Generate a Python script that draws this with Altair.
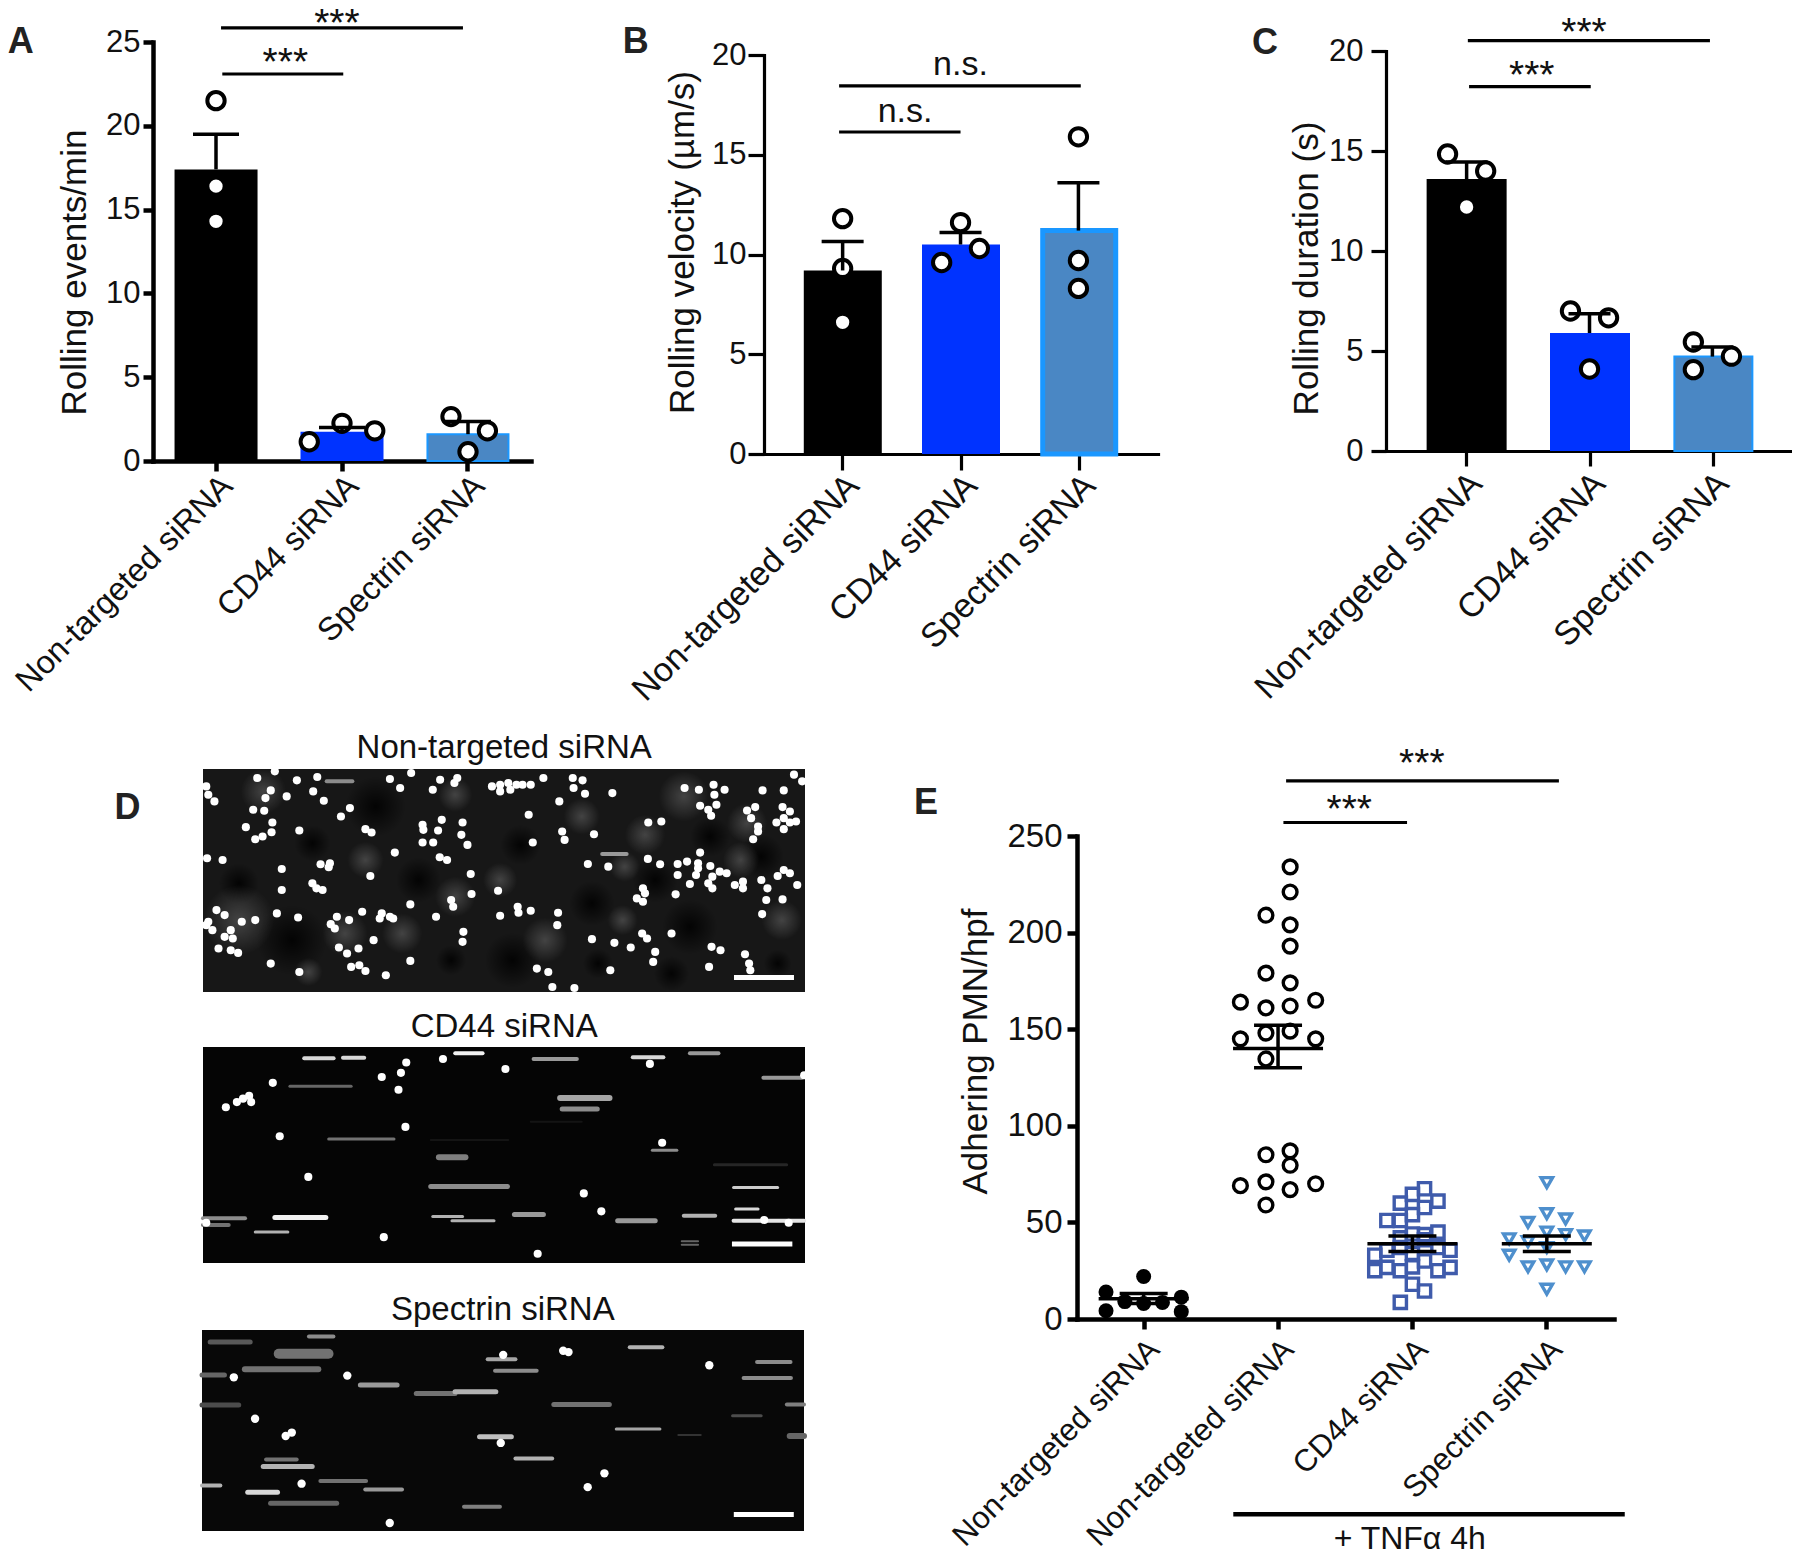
import altair as alt
import pandas as pd

FONT = "Liberation Sans"
CANVAS_W, CANVAS_H = 1784, 1548
GROUPS3 = ["Non-targeted siRNA", "CD44 siRNA", "Spectrin siRNA"]
GROUPS4 = ["Non-targeted siRNA", "Non-targeted siRNA ", "CD44 siRNA", "Spectrin siRNA"]
BAR_COLORS = ["#000000", "#0033ff", "#4a87c4"]

# ---- panel A
a_bar = [17.4, 1.75, 1.6]
a_err = [19.5, 2.0, 2.35]
a_pts_x = [0, 0, 0, 0.74, 1, 1.26, 1.865, 2.154, 2.0]
a_pts_y = [21.5, 16.4, 14.3, 1.15, 2.25, 1.8, 2.65, 1.8, 0.55]
a_sig = [(0.04, 1.96, 25.84), (0.05, 1.01, 23.09)]
a_txt = [(0.96, 26.5, "***"), (0.55, 24.16, "***")]
a_letter = (-1.55, 25.1, "A")
# ---- panel B
b_bar = [9.2, 10.5, 11.2]
b_err = [10.65, 11.1, 13.6]
b_pts_x = [0, 0, 0, 1, 0.84, 1.16, 2, 2, 2]
b_pts_y = [11.8, 9.3, 6.6, 11.6, 9.6, 10.3, 15.9, 9.7, 8.3]
b_sig = [(-0.03, 2.02, 18.45), (-0.03, 1.0, 16.14)]
b_txt = [(1.0, 19.5, "n.s."), (0.53, 17.14, "n.s.")]
b_letter = (-1.755, 20.75, "B")
# ---- panel C
c_bar = [13.6, 5.9, 4.72]
c_err = [14.45, 6.86, 5.2]
c_pts_x = [-0.155, 0.155, 0, 0.845, 1.155, 1, 1.845, 2.155, 1.845]
c_pts_y = [14.85, 14.0, 12.2, 7.0, 6.66, 4.1, 5.45, 4.74, 4.07]
c_sig = [(0.01, 1.98, 20.52), (0.02, 1.01, 18.22)]
c_txt = [(0.955, 21.25, "***"), (0.53, 19.1, "***")]
c_letter = (-1.64, 20.5, "C")
# ---- panel E
e1_x = [0, -0.28, 0.28, -0.14, 0, 0.14, -0.28, 0.28]
e1_y = [22, 14, 11.3, 9, 8, 8.6, 4.3, 3.8]
e2_x = [1.09, 1.09, 0.91, 1.09, 1.09, 0.91, 1.09, 0.72, 1.28, 0.91, 1.09, 0.72, 0.91, 1.09, 1.28, 0.91,
        1.09, 0.91, 1.09, 0.91, 0.72, 1.28, 1.09, 0.91]
e2_y = [234, 221, 209, 204, 193, 179, 174, 164, 165, 161, 162, 145, 148, 149, 145, 134.6,
        87, 85, 79.6, 71, 69, 70, 67, 59]
e3_x = [1.91, 2.09, 2.0, 1.72, 1.81, 1.91, 2.0, 2.19, 2.28, 2.09, 1.72, 2.28, 2.0, 1.81, 1.91, 2.19,
        2.09, 2.19, 1.91, 2.0, 2.09, 1.81, 1.91, 2.0, 2.09, 1.91, 2.19, 2.0, 2.09]
e3_y = [8.6, 14.5, 18, 25, 26.7, 25, 27, 25, 26.7, 30, 33, 35.6, 34, 35.6, 37, 37,
        41, 45, 42, 44, 43.7, 51, 51, 54, 57.7, 60, 61, 64.5, 67.4]
e4_x = [3, 3, 2.86, 3.14, 2.72, 2.86, 3, 3.14, 3.28, 2.72, 2.86, 3, 3.14, 3.28, 3, 3]
e4_y = [70.6, 54.5, 50, 51.8, 41.5, 40, 45, 43.7, 43, 33, 27, 28, 27, 27, 37, 15.4]
e_mean = [10.5, 140, 39, 39]
e_hi = [13.2, 152, 43, 43]
e_lo = [8, 130, 35, 35]
e_sig = [(1.06, 3.09, 278.5), (1.04, 1.96, 257)]
e_txt = [(2.07, 291, "***"), (1.53, 267, "***")]
e_letter = (-1.62, 268, "E")
e_brace = (0.667, 3.58, -101)
e_brace_txt = (1.98, -114, "+ TNF\u03b1 4h")

d1_dots = [(165,175),(208,155),(262,182),(312,172),(490,178),(542,160),(613,180),(655,175),(648,190),(866,175),(938,175),(962,182),(1480,165),(1500,185),
(40,200),(45,225),(60,245),(198,212),(185,235),(237,230),(302,215),(328,243),(515,205),(595,210),(740,200),(760,195),(780,190),(800,195),(760,215),(785,210),(815,195),(835,195),(940,205),(968,222),(905,245),(1035,220),(1212,205),(1247,210),(1283,195),(1285,225),(1310,210),(1403,212),(1455,212),
(155,270),(182,273),(392,265),(370,290),(830,285),(1250,258),(1270,270),(1290,255),(1277,288),(1365,272),(1385,262),(1375,295),(1452,262),(1470,275),
(202,308),(137,322),(268,332),(200,337),(430,328),(445,338),(570,315),(572,330),(617,300),(608,332),(668,308),(665,345),(1123,308),(1155,305),(1392,320),(1392,335),(1437,308),(1455,295),(1470,308),(1485,305),(1455,328),(1380,358),
(178,350),(160,358),(570,368),(596,368),(680,375),(840,368),(912,335),(918,360),(990,343),
(42,415),(80,420),(502,398),(612,412),(630,420),(1122,417),(1152,433),(1250,398),(1195,432),(1218,425),(1245,430),(1275,438),(975,432),(1025,440),
(225,447),(320,433),(343,430),(340,442),(442,468),(688,462),(1195,465),(1240,465),(1245,445),(1298,455),(1315,460),(1280,470),(1440,468),(1455,450),(1470,460),
(300,490),(310,505),(325,510),(225,510),(690,522),(755,512),(1225,492),(1270,490),(1280,505),(1335,495),(1355,485),(1355,505),(1400,480),(1415,505),(1488,495),(1110,505),(1115,520),(1095,535),(1110,545),(1190,523),(1412,540),(1452,538),
(640,540),(645,560),(540,553),(65,570),(85,585),(213,580),(265,592),(422,575),(470,580),(490,590),(465,595),(498,595),(360,590),(390,600),(345,612),(355,625),(160,600),(127,605),(603,590),(803,560),(805,578),(835,572),(760,587),(902,578),(900,615),(1402,582),
(45,605),(55,630),(40,615),(100,630),(85,650),(105,655),(70,685),(100,690),(118,698),(450,660),(365,682),(385,700),(413,685),(670,635),(668,665),(985,657),(1040,668),(1080,682),(1108,640),(1120,655),(1180,640),(1140,695),(1278,680),(1300,690),(1360,702),
(198,730),(268,755),(395,740),(415,735),(430,752),(480,765),(540,722),(850,745),(878,755),(1030,750),(1135,725),(1272,740),(1370,730),(1373,750),(888,800),(942,803)]
d1_streaks = [(335,398,185,0.55,4),(1010,1070,402,0.6,4)]
# glow blobs: centre x, centre y, extent
d1_glow = [(120,600,70),(1115,345,40),(1365,310,40),(1210,230,50),(870,660,45),(180,215,45),(380,640,45),(650,530,40),(1065,440,30),(290,755,28),
           (520,640,40),(960,290,36),(650,225,34),(1350,420,36),(1060,600,30),(1450,600,40),(760,480,34),(430,420,36)]
d1_dark = [(250,660,70),(790,720,55),(1140,480,45),(810,375,40),(1400,410,45),(985,550,45),(1225,620,55),(455,260,60),(560,480,45),(120,490,40),(1180,760,35),(1275,350,40),
           (1000,730,30),(640,720,30),(300,370,36),(1440,730,28)]
d2_dots = [(88,283),(115,268),(130,258),(145,250),(150,268),(203,212),(470,195),(530,153),(517,183),(511,232),(620,143),(773,172),(1127,157),(528,340),(220,367),(1157,386),(290,485),(965,533),(1008,585),(475,660),(852,708),(40,618),(1467,618),(1407,610),(1505,190)]
d2_streaks = [(280,352,141,0.85,4),(375,427,139,0.85,4),(650,717,126,0.95,4),(842,948,143,0.6,4),(1085,1160,138,0.85,4),(1225,1295,126,0.6,4),(1405,1500,197,0.6,4),(245,395,222,0.4,3),(907,1028,256,0.65,6),(912,998,288,0.55,5),(340,500,375,0.45,3),(1133,1193,408,0.55,3),(610,675,428,0.5,6),(1285,1462,450,0.15,3),(590,778,513,0.55,5),(1332,1440,516,0.8,3),(1337,1392,578,0.85,3),(32,135,605,0.55,4),(32,95,625,0.45,4),(208,333,603,0.95,5),(160,240,645,0.7,3),(595,668,600,0.7,3),(642,745,612,0.7,3),(795,866,594,0.6,5),(1048,1140,612,0.6,5),(1210,1287,598,0.7,4),(1332,1505,612,0.9,4),(1205,1245,672,0.4,2),(1205,1245,682,0.4,2),(590,780,378,0.08,2),(835,960,325,0.08,2)]
d3_dots = [(108,1065),(386,1060),(160,1185),(235,1235),(250,1225),(274,1373),(490,1487),(762,1255),(768,1000),(915,988),(928,992),(1273,1030),(975,1383),(1016,1343)]
d3_streaks = [(50,148,963,0.35,5),(292,352,947,0.55,4),(218,340,997,0.45,10),(135,315,1042,0.45,6),(30,85,1058,0.4,5),(418,508,1087,0.6,5),(555,650,1112,0.45,5),(650,750,1107,0.7,5),(730,798,1013,0.65,4),(748,850,1046,0.55,4),(1078,1158,978,0.7,4),(1390,1472,1021,0.55,4),(1357,1473,1067,0.55,4),(30,120,1145,0.3,5),(892,1028,1144,0.45,5),(1463,1505,1144,0.5,4),(1330,1400,1176,0.3,3),(1045,1152,1215,0.65,3),(710,788,1237,0.75,5),(798,888,1300,0.7,4),(187,262,1303,0.45,4),(180,300,1323,0.7,5),(30,75,1378,0.7,4),(320,432,1365,0.45,4),(142,215,1398,0.85,5),(430,520,1390,0.6,4),(198,360,1430,0.4,5),(672,760,1440,0.5,4),(1197,1252,1232,0.2,2),(1470,1505,1235,0.4,6)]


def q(dom, rng):
    return alt.Scale(domain=dom, range=rng, nice=False, zero=False)


def bar_panel(cats, bars, errs, px, py, dom_x, y_dom, y_vals, y_title, title_x, title_y,
              px_bar, tick_w, tick_len, label_pad, tick_font, po, stroke_w, pts_x, pts_y, sig, txt, letter,
              cap=46, pt_size=300, label_off=0, label_font=34):
    rng_x = [px[0] - 8, px[1] - 8]
    rng_y = [py[0] - 8, py[1] - 8]
    x_n = alt.Scale(domain=cats, range=rng_x, paddingInner=0.333, paddingOuter=po)
    x_q = q(dom_x, rng_x)
    y_q = q(y_dom, rng_y)
    df = pd.DataFrame({"g": cats, "v": bars, "e": errs, "i": list(range(3)), "c": BAR_COLORS,
                       "w": [px_bar, px_bar, px_bar - stroke_w]})
    axis_x = alt.Axis(orient="bottom", offset=(py[0] - 8) - CANVAS_H, labelAngle=-45, labelAlign="right",
                      labelBaseline="top", labelFont=FONT, labelFontSize=label_font, labelColor="#111", title=None,
                      domainWidth=tick_w, tickWidth=tick_w, tickSize=tick_len, domainColor="black",
                      tickColor="black", labelOverlap=False, labelLimit=600, labelPadding=label_pad[1], grid=False,
                      domainCap="square", labelOffset=label_off)
    axis_y = alt.Axis(orient="left", offset=-(px[0] - 8), values=y_vals, format="d", labelFont=FONT,
                      labelFontSize=tick_font, labelColor="#111", labelPadding=label_pad[0], domainWidth=tick_w,
                      tickWidth=tick_w, tickSize=tick_len, domainColor="black", tickColor="black", grid=False,
                      title=y_title, titleFont=FONT, titleFontSize=35, titleFontWeight="normal", titleColor="#111",
                      titleX=title_x, titleY=title_y - 8, titleBaseline="middle", titleAngle=-90, titleAlign="center",
                      domainCap="square", labelOverlap=False)
    bars_l = alt.Chart(df).mark_bar(strokeWidth=stroke_w).encode(
        x=alt.X("g:N", sort=cats, scale=x_n, axis=axis_x),
        y=alt.Y("v:Q", scale=y_q, axis=axis_y),
        size=alt.Size("w:Q", scale=None),
        fill=alt.Fill("c:N", scale=None),
        stroke=alt.condition(alt.datum.i == 2, alt.value("#1a97ff"), alt.value("transparent")),
    )
    pts = alt.Chart(pd.DataFrame({"x": pts_x, "y": pts_y})).mark_point(
        filled=True, fill="white", stroke="black", strokeWidth=4, size=pt_size, opacity=1, shape="circle"
    ).encode(x=alt.X("x:Q", scale=x_q, axis=None), y=alt.Y("y:Q", scale=y_q, axis=None))
    stems = alt.Chart(df).mark_rule(color="black", strokeWidth=3.5).encode(
        x=alt.X("i:Q", scale=x_q, axis=None), y=alt.Y("v:Q", scale=y_q, axis=None), y2="e:Q")
    caps = alt.Chart(df).mark_tick(color="black", orient="horizontal", size=cap, thickness=3.5, opacity=1).encode(
        x=alt.X("i:Q", scale=x_q, axis=None), y=alt.Y("e:Q", scale=y_q, axis=None))
    return [bars_l, pts, stems, caps] + annotations(x_q, y_q, sig, txt, letter)


def annotations(x_q, y_q, sig, txt, letter):
    sdf = pd.DataFrame(sig, columns=["a", "b", "y"])
    tdf = pd.DataFrame(txt, columns=["x", "y", "t"])
    ldf = pd.DataFrame([letter], columns=["x", "y", "t"])
    lines = alt.Chart(sdf).mark_rule(color="black", strokeWidth=3.2).encode(
        x=alt.X("a:Q", scale=x_q, axis=None), x2="b:Q", y=alt.Y("y:Q", scale=y_q, axis=None))
    dy = 7 if txt[0][2] == "***" else 0
    size = 39 if txt[0][2] == "***" else 34
    labels = alt.Chart(tdf).mark_text(font=FONT, fontSize=size, color="#111", baseline="middle", dy=dy).encode(
        x=alt.X("x:Q", scale=x_q, axis=None), y=alt.Y("y:Q", scale=y_q, axis=None), text="t:N")
    let = alt.Chart(ldf).mark_text(font=FONT, fontSize=36, fontWeight="bold", color="#222", baseline="middle", dy=2).encode(
        x=alt.X("x:Q", scale=x_q, axis=None), y=alt.Y("y:Q", scale=y_q, axis=None), text="t:N")
    return [lines, labels, let]


def e_panel():
    px = (1077, 1614)
    py = (1319, 836)
    rng_x, rng_y = [px[0] - 8, px[1] - 8], [py[0] - 8, py[1] - 8]
    dom_x = [-0.496, 3.5]
    x_n = alt.Scale(domain=GROUPS4, range=rng_x, paddingInner=0, paddingOuter=0)
    x_q = q(dom_x, rng_x)
    y_q = q([0, 250], rng_y)
    df = pd.DataFrame({"g": GROUPS4, "m": e_mean, "hi": e_hi, "lo": e_lo, "i": list(range(4))})
    axis_x = alt.Axis(orient="bottom", offset=(py[0] - 8) - CANVAS_H, labelAngle=-45, labelAlign="right",
                      labelBaseline="top", labelFont=FONT, labelFontSize=31, labelColor="#111", title=None,
                      domainWidth=4.5, tickWidth=4.5, tickSize=10, domainColor="black", tickColor="black",
                      labelOverlap=False, labelLimit=600, labelPadding=5, grid=False, domainCap="square")
    axis_y = alt.Axis(orient="left", offset=-(px[0] - 8), values=[0, 50, 100, 150, 200, 250], format="d",
                      labelFont=FONT, labelFontSize=33, labelColor="#111", labelPadding=5, domainWidth=4.5,
                      tickWidth=4.5, tickSize=10, domainColor="black", tickColor="black", grid=False,
                      title="Adhering PMN/hpf", titleFont=FONT, titleFontSize=35, titleFontWeight="normal",
                      titleColor="#111", titleX=-102, titleY=1051 - 8, titleBaseline="middle", titleAngle=-90,
                      titleAlign="center", domainCap="square", labelOverlap=False)
    base = alt.Chart(df).mark_tick(opacity=0).encode(
        x=alt.X("g:N", sort=GROUPS4, scale=x_n, axis=axis_x),
        y=alt.Y("m:Q", scale=y_q, axis=axis_y))

    def pts(xs, ys, **kw):
        return alt.Chart(pd.DataFrame({"x": xs, "y": ys})).mark_point(opacity=1, **kw).encode(
            x=alt.X("x:Q", scale=x_q, axis=None), y=alt.Y("y:Q", scale=y_q, axis=None))

    p1 = pts(e1_x, e1_y, filled=True, color="black", size=225, shape="circle")
    p2 = pts(e2_x, e2_y, filled=False, stroke="black", strokeWidth=3.4, size=190, shape="circle")
    p3 = pts(e3_x, e3_y, filled=False, stroke="#3f5bab", strokeWidth=3.4, size=150, shape="square")
    p4 = pts(e4_x, e4_y, filled=False, stroke="#4e8fcd", strokeWidth=3.4, size=130, shape="triangle-down")
    mean = alt.Chart(df).mark_tick(color="black", orient="horizontal", size=90, thickness=3.5, opacity=1).encode(
        x=alt.X("i:Q", scale=x_q, axis=None), y=alt.Y("m:Q", scale=y_q, axis=None))
    stem = alt.Chart(df).mark_rule(color="black", strokeWidth=3.5).encode(
        x=alt.X("i:Q", scale=x_q, axis=None), y=alt.Y("lo:Q", scale=y_q, axis=None), y2="hi:Q")
    hi = alt.Chart(df).mark_tick(color="black", orient="horizontal", size=48, thickness=3.5, opacity=1).encode(
        x=alt.X("i:Q", scale=x_q, axis=None), y=alt.Y("hi:Q", scale=y_q, axis=None))
    lo = alt.Chart(df).mark_tick(color="black", orient="horizontal", size=48, thickness=3.5, opacity=1).encode(
        x=alt.X("i:Q", scale=x_q, axis=None), y=alt.Y("lo:Q", scale=y_q, axis=None))
    brace = alt.Chart(pd.DataFrame([e_brace], columns=["a", "b", "y"])).mark_rule(color="black", strokeWidth=4.5).encode(
        x=alt.X("a:Q", scale=x_q, axis=None), x2="b:Q", y=alt.Y("y:Q", scale=y_q, axis=None))
    brace_t = alt.Chart(pd.DataFrame([e_brace_txt], columns=["x", "y", "t"])).mark_text(
        font=FONT, fontSize=32, color="#111", baseline="middle").encode(
        x=alt.X("x:Q", scale=x_q, axis=None), y=alt.Y("y:Q", scale=y_q, axis=None), text="t:N")
    return [base, p1, p2, p3, p4, mean, stem, hi, lo, brace, brace_t] + annotations(x_q, y_q, e_sig, e_txt, e_letter)


def glow(col_in, col_out):
    return {"gradient": "radial", "stops": [{"offset": 0, "color": col_in}, {"offset": 1, "color": col_out}]}


def image_panel(box_px, box_im, dots, streaks, bar, title, light=None, dark=None, letter=None, base="#050505", dot=60):
    x_q = q([box_im[0], box_im[1]], [box_px[0] - 8, box_px[1] - 8])
    y_q = q([box_im[2], box_im[3]], [box_px[2] - 8, box_px[3] - 8])
    X = lambda f: alt.X(f, scale=x_q, axis=None)
    Y = lambda f: alt.Y(f, scale=y_q, axis=None)
    ux = (box_im[1] - box_im[0]) / (box_px[1] - box_px[0])
    uy = (box_im[3] - box_im[2]) / (box_px[3] - box_px[2])
    bg = alt.Chart(pd.DataFrame({"a": [box_im[0]], "b": [box_im[1]], "c": [box_im[2]], "d": [box_im[3]]})).mark_rect(
        color=base).encode(x=X("a:Q"), x2="b:Q", y=Y("c:Q"), y2="d:Q")
    layers = [bg]
    for blobs, grad in ((dark, glow("rgba(0,0,0,0.85)", "rgba(0,0,0,0)")),
                        (light, glow("rgba(170,170,170,0.3)", "rgba(170,170,170,0)"))):
        if blobs:
            rows = [(cx - d * ux / 2, cx + d * ux / 2, cy - d * uy / 2, cy + d * uy / 2) for cx, cy, d in blobs]
            layers.append(alt.Chart(pd.DataFrame(rows, columns=["a", "b", "c", "d"])).mark_rect(fill=grad).encode(
                x=X("a:Q"), x2="b:Q", y=Y("c:Q"), y2="d:Q"))
    if streaks:
        sdf = pd.DataFrame(streaks, columns=["a", "b", "y", "l", "w"])
        sdf["col"] = [f"rgb({int(255*v)},{int(255*v)},{int(255*v)})" for v in sdf["l"]]
        layers.append(alt.Chart(sdf).mark_rule(strokeCap="round").encode(
            x=X("a:Q"), x2="b:Q", y=Y("y:Q"),
            color=alt.Color("col:N", scale=None), strokeWidth=alt.StrokeWidth("w:Q", scale=None)))
    layers.append(alt.Chart(pd.DataFrame(dots, columns=["x", "y"])).mark_circle(
        color="white", opacity=1, size=dot).encode(x=X("x:Q"), y=Y("y:Q")))
    layers.append(alt.Chart(pd.DataFrame([bar], columns=["a", "b", "y"])).mark_rule(color="white", strokeWidth=5).encode(
        x=X("a:Q"), x2="b:Q", y=Y("y:Q")))
    layers.append(alt.Chart(pd.DataFrame([title], columns=["x", "y", "t"])).mark_text(
        font=FONT, fontSize=33, color="#111", baseline="middle", dy=2).encode(x=X("x:Q"), y=Y("y:Q"), text="t:N"))
    if letter:
        layers.append(alt.Chart(pd.DataFrame([letter], columns=["x", "y", "t"])).mark_text(
            font=FONT, fontSize=36, fontWeight="bold", color="#222", baseline="middle", dy=2).encode(
            x=X("x:Q"), y=Y("y:Q"), text="t:N"))
    return layers


layers = []
layers += bar_panel(GROUPS3, a_bar, a_err, (153, 531), (461, 42), [-0.5, 2.5], [0, 25], [0, 5, 10, 15, 20, 25],
                    "Rolling events/min", -79, 272, 83, 4.5, 10, (3, -2), 31, 0.167, 2, a_pts_x, a_pts_y, a_sig, a_txt, a_letter,
                    label_off=0, label_font=32.5)
layers += bar_panel(GROUPS3, b_bar, b_err, (764, 1158), (454, 55), [-0.667, 2.675], [0, 20], [0, 5, 10, 15, 20],
                    "Rolling velocity (\u00b5m/s)", -82, 242, 78, 3.2, 16, (2, -2), 31, 0.333, 5, b_pts_x, b_pts_y, b_sig, b_txt, b_letter, cap=42, label_off=-1)
layers += bar_panel(GROUPS3, c_bar, c_err, (1386, 1794), (451, 51), [-0.656, 2.664], [0, 20], [0, 5, 10, 15, 20],
                    "Rolling duration (s)", -80, 268, 80, 3.2, 15, (8, 0), 31, 0.32, 2, c_pts_x, c_pts_y, c_sig, c_txt, c_letter, cap=42, label_off=-2)
layers += e_panel()
layers += image_panel((203, 805, 769, 992), (32, 1507, 148, 815), d1_dots, d1_streaks, (1333, 1480, 772),
                      (770, 80, "Non-targeted siRNA"), light=d1_glow, dark=d1_dark, letter=(-153, 259, "D"), base="#171717", dot=66)
layers += image_panel((203, 805, 1047, 1263), (32, 1507, 108, 735), d2_dots, d2_streaks, (1328, 1476, 680),
                      (770, 45, "CD44 siRNA"), dot=66)
layers += image_panel((202, 804, 1330, 1531), (30, 1505, 928, 1510), d3_dots, d3_streaks, (1333, 1480, 1462),
                      (767, 865, "Spectrin siRNA"), base="#080808", dot=70)

chart = alt.layer(*layers).resolve_scale(x="independent", y="independent").resolve_axis(
    x="independent", y="independent"
).properties(
    width=CANVAS_W, height=CANVAS_H, padding=0, autosize=alt.AutoSizeParams(type="none"), background="white"
).configure_view(stroke=None)

chart.save("out.html", embed_options={"renderer": "svg", "actions": False})
